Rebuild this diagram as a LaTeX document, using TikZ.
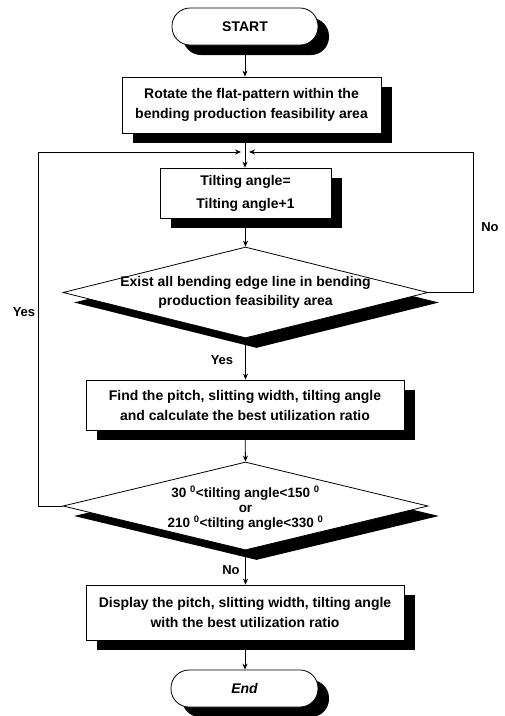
\documentclass[tikz,border=0pt]{standalone}
\usepackage{fontspec}
\setmainfont{Liberation Sans}
\usetikzlibrary{shapes.geometric,shadows,arrows.meta}
\begin{document}
\begin{tikzpicture}[x=1pt,y=-1pt,
  every node/.style={font=\bfseries\fontsize{14}{20}\selectfont, inner sep=0pt},
  shad/.style={drop shadow={shadow xshift=11pt, shadow yshift=-10pt, fill=black, opacity=1}},
  proc/.style={draw, fill=white, line width=0.8pt, shad, align=center},
  term/.style={draw, fill=white, line width=0.8pt, shad, rounded corners=18pt, minimum width=146pt, minimum height=37pt},
  dec/.style={diamond, draw, fill=white, line width=0.8pt, shad, minimum width=365pt, minimum height=91pt},
  lbl/.style={font=\bfseries\fontsize{13}{15}\selectfont},
  conn/.style={line width=0.8pt, -{Stealth[length=6pt,width=5pt]}},
  line/.style={line width=0.8pt}
]
\useasboundingbox (0,0) rectangle (505,716);
\node[term] (start) at (245,26.5) {START};
\node[proc, minimum width=259pt, minimum height=56pt] (rot) at (251.5,105) {Rotate the flat-pattern within the\\bending production feasibility area};
\node[proc, minimum width=171pt, minimum height=50pt, font=\bfseries\fontsize{14}{23}\selectfont] (tilt) at (245.5,193) {Tilting angle=\\Tilting angle+1};
\node[dec] (d1) at (245.5,292.5) {};
\node[align=center, font=\bfseries\fontsize{14}{19}\selectfont] (d1t) at (245.5,292) {Exist all bending edge line in bending\\production feasibility area};
\node[proc, minimum width=318pt, minimum height=50pt] (find) at (245,405) {Find the pitch, slitting width, tilting angle\\and calculate the best utilization ratio};
\node[dec, minimum height=88pt] (d2) at (245.5,506) {};
\node[align=center, font=\bfseries\fontsize{13.5}{15}\selectfont] (d2t) at (245.5,508) {30 \textsuperscript{0}<tilting angle<150 \textsuperscript{0}\\or\\210 \textsuperscript{0}<tilting angle<330 \textsuperscript{0}};
\node[proc, minimum width=318pt, minimum height=55pt] (disp) at (245,612.5) {Display the pitch, slitting width, tilting angle\\with the best utilization ratio};
\node[term, minimum width=147pt] (end) at (244.5,688.5) {\itshape End};
\coordinate (j) at (245,152);
\coordinate (nr) at (473,292.5);
\coordinate (yl) at (38,506);
\draw[conn] (start.south) -- (rot.north -| start.south);
\draw[conn] (j |- rot.south) -- (tilt.north -| j);
\draw[conn] (tilt.south) -- (d1.north);
\draw[conn] (d1.east) -- (nr) |- ([xshift=4pt]j);
\draw[conn] (d2.west) -- (yl) |- ([xshift=-4pt]j);
\draw[conn] (d1.south) -- (find.north -| d1.south);
\draw[conn] (find.south) -- (d2.north);
\draw[conn] (d2.south) -- (disp.north -| d2.south);
\draw[conn] (disp.south) -- (end.north -| disp.south);
\node[lbl] (no1) at (490,227) {No};
\node[lbl] (yes1) at (24,312) {Yes};
\node[lbl] (yes2) at (222,360) {Yes};
\node[lbl] (no2) at (231,570) {No};
\end{tikzpicture}
\end{document}
